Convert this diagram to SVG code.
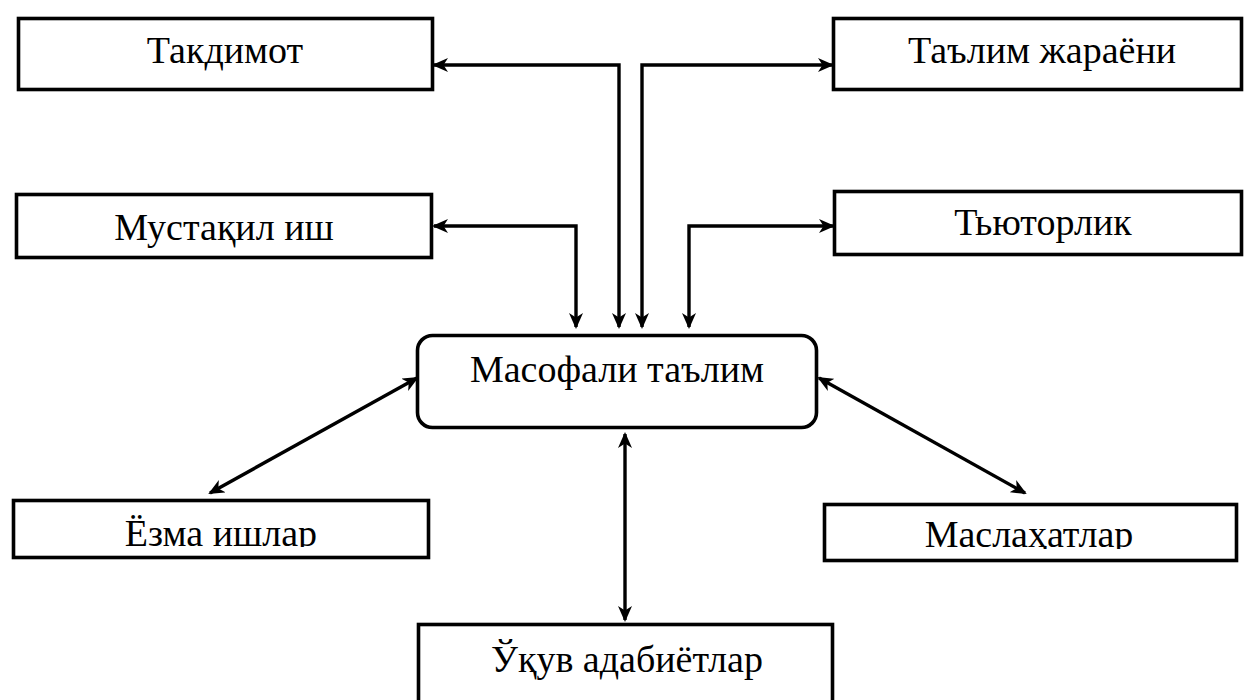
<svg xmlns="http://www.w3.org/2000/svg" width="1244" height="700" viewBox="0 0 1244 700">
<style>
.box{fill:#fff;stroke:#000;stroke-width:3.6}
.lbl{font-family:"Liberation Serif","Times New Roman",serif;font-size:38px;fill:#000;text-anchor:middle}
.con{fill:none;stroke:#000;stroke-width:3.4;stroke-linejoin:miter}
</style>
<defs>
<marker id="ah" viewBox="0 0 16 14" refX="14" refY="7" markerWidth="16" markerHeight="14" markerUnits="userSpaceOnUse" orient="auto-start-reverse">
<path d="M0,0 L16,7 L0,14 L4.5,7 Z" fill="#000"/>
</marker>
<clipPath id="clipA"><rect x="0" y="480" width="440" height="67"/></clipPath>
<clipPath id="clipB"><rect x="820" y="480" width="424" height="69"/></clipPath>
</defs>
<rect width="1244" height="700" fill="#fff"/>
<g id="connectors">
<path class="con" d="M619,327 V65 H434" marker-start="url(#ah)" marker-end="url(#ah)"/>
<path class="con" d="M642,327 V65 H832" marker-start="url(#ah)" marker-end="url(#ah)"/>
<path class="con" d="M576,327 V226 H434" marker-start="url(#ah)" marker-end="url(#ah)"/>
<path class="con" d="M689,327 V226 H833" marker-start="url(#ah)" marker-end="url(#ah)"/>
<path class="con" d="M417,378 L210,493" marker-start="url(#ah)" marker-end="url(#ah)"/>
<path class="con" d="M819,378 L1025,493" marker-start="url(#ah)" marker-end="url(#ah)"/>
<path class="con" d="M625,434 V620" marker-start="url(#ah)" marker-end="url(#ah)"/>
</g>
<g id="takdimot">
<rect class="box" x="18.5" y="18.5" width="414" height="71"/>
<text class="lbl" x="225" y="63">Такдимот</text>
</g>
<g id="talim-jarayoni">
<rect class="box" x="833.5" y="18.5" width="408" height="71"/>
<text class="lbl" x="1042" y="63">Таълим жараёни</text>
</g>
<g id="mustaqil-ish">
<rect class="box" x="16.5" y="194.5" width="415" height="63"/>
<text class="lbl" x="224" y="240">Мустақил иш</text>
</g>
<g id="tyutorlik">
<rect class="box" x="834.5" y="191.5" width="407" height="63"/>
<text class="lbl" x="1043" y="235">Тьюторлик</text>
</g>
<g id="masofali-talim">
<rect class="box" x="417.5" y="335.5" width="399" height="92" rx="15" ry="15"/>
<text class="lbl" x="617" y="382">Масофали таълим</text>
</g>
<g id="yozma-ishlar">
<rect class="box" x="13.5" y="500.5" width="415" height="57"/>
<text class="lbl" x="221" y="546" clip-path="url(#clipA)">Ёзма ишлар</text>
</g>
<g id="maslahatlar">
<rect class="box" x="824.5" y="504.5" width="412" height="56"/>
<text class="lbl" x="1029" y="547" clip-path="url(#clipB)">Маслаҳатлар</text>
</g>
<g id="uquv-adabiyotlar">
<rect class="box" x="418.5" y="624.5" width="414" height="100"/>
<text class="lbl" x="627" y="672">Ўқув адабиётлар</text>
</g>
</svg>
